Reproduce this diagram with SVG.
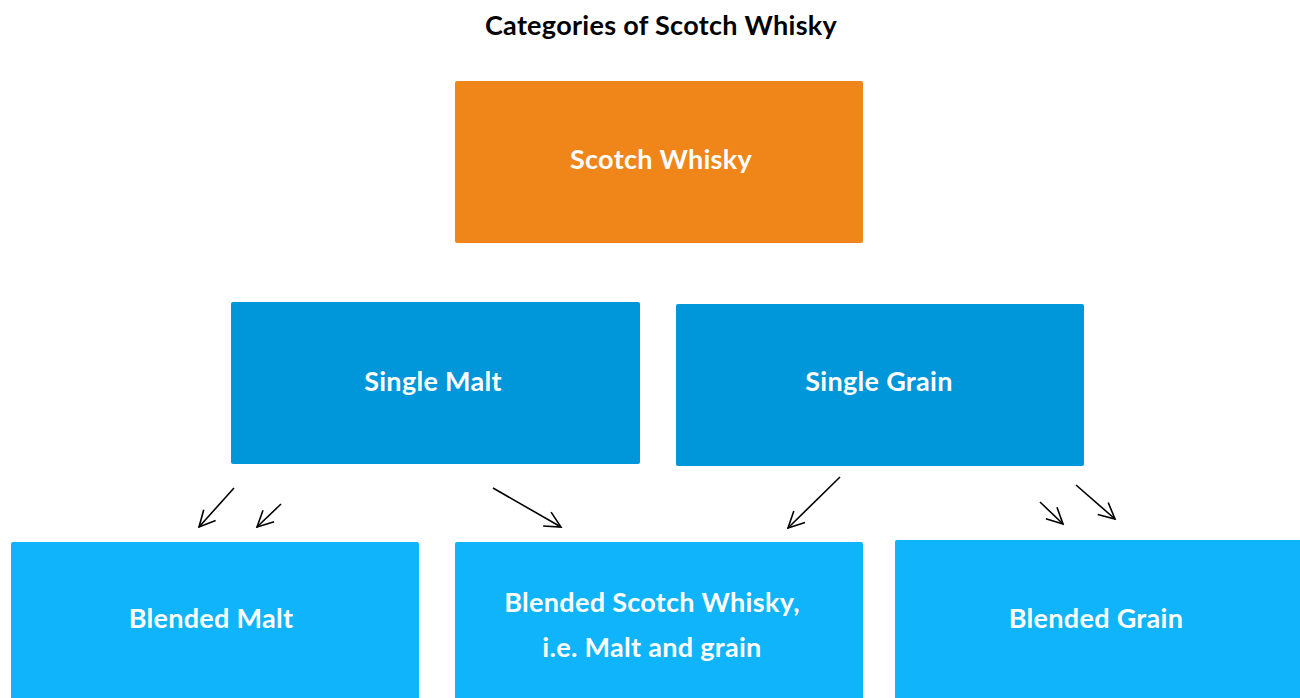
<svg xmlns="http://www.w3.org/2000/svg" width="1300" height="698" viewBox="0 0 1300 698">
<style>
.t{font-family:Lato,"Liberation Sans",sans-serif;font-weight:bold;text-anchor:middle;letter-spacing:0.3px}
.lbl{fill:#ffffff;font-size:27px}
.title{fill:#000;font-size:27px}
.top{fill:#F0861A}
.mid{fill:#0096DA}
.bot{fill:#10B4FA}
.c{stroke:#000;stroke-width:1.6;fill:none}
</style>
<defs>
<marker id="a" viewBox="0 0 20 20" refX="18" refY="10" markerWidth="20" markerHeight="20" markerUnits="userSpaceOnUse" orient="auto">
<path d="M2,2 L18,10 L2,18" fill="none" stroke="#000" stroke-width="1.6"/>
</marker>
</defs>
<rect width="1300" height="698" fill="#fff"/>
<text class="t title" x="661" y="35">Categories of Scotch Whisky</text>
<g id="scotch"><rect class="top" x="455" y="81" width="408" height="162" rx="2"/><text class="t lbl" x="661" y="169">Scotch Whisky</text></g>
<g id="singlemalt"><rect class="mid" x="231" y="302" width="409" height="162" rx="2"/><text class="t lbl" x="433" y="391">Single Malt</text></g>
<g id="singlegrain"><rect class="mid" x="676" y="304" width="408" height="162" rx="2"/><text class="t lbl" x="879" y="391">Single Grain</text></g>
<g id="blendedmalt"><rect class="bot" x="11" y="542" width="408" height="170" rx="2"/><text class="t lbl" x="211" y="628">Blended Malt</text></g>
<g id="blendedscotch"><rect class="bot" x="455" y="542" width="408" height="170" rx="2"/><text class="t lbl" x="652" y="612">Blended Scotch Whisky,</text><text class="t lbl" x="652" y="657">i.e. Malt and grain</text></g>
<g id="blendedgrain"><rect class="bot" x="895" y="540" width="410" height="170" rx="2"/><text class="t lbl" x="1096" y="628">Blended Grain</text></g>
<g id="connectors">
<line class="c" x1="234" y1="488" x2="199" y2="527" marker-end="url(#a)"/>
<line class="c" x1="281" y1="504" x2="257" y2="527" marker-end="url(#a)"/>
<line class="c" x1="493" y1="488" x2="561" y2="527" marker-end="url(#a)"/>
<line class="c" x1="840" y1="477" x2="788" y2="528" marker-end="url(#a)"/>
<line class="c" x1="1040" y1="502" x2="1063" y2="524" marker-end="url(#a)"/>
<line class="c" x1="1076" y1="485" x2="1115" y2="519" marker-end="url(#a)"/>
</g>
</svg>
